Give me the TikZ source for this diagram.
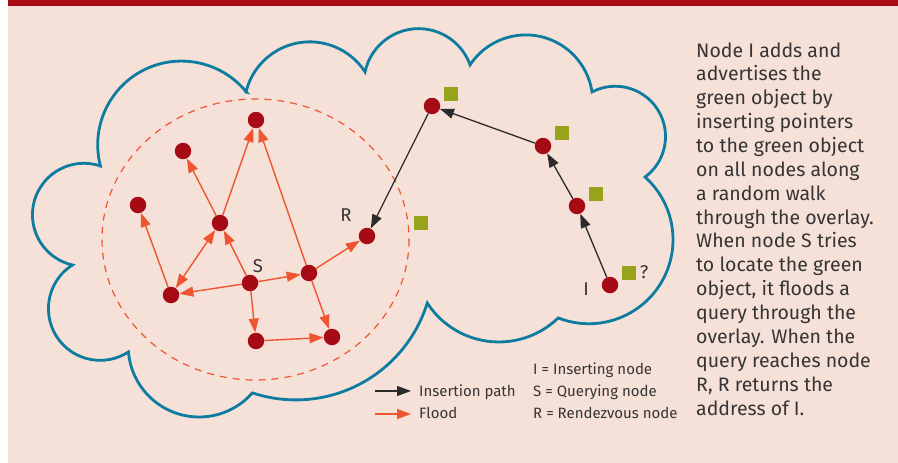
\documentclass[tikz,border=0pt]{standalone}
\usepackage{fontspec}
\setmainfont{Fira Sans}
\usetikzlibrary{arrows.meta}

\definecolor{paper}{HTML}{F5E1D7}
\definecolor{band}{HTML}{A90A15}
\definecolor{cloudblue}{HTML}{0E7BA1}
\definecolor{dotred}{HTML}{A60A14}
\definecolor{objgreen}{HTML}{97A31A}
\definecolor{floodred}{HTML}{EF5533}
\definecolor{ink}{HTML}{2B2B2B}
\definecolor{textgray}{HTML}{363434}

\tikzset{
  peer/.style={circle, fill=dotred, minimum size=16.5pt, inner sep=0pt},
  obj/.style={fill=objgreen, minimum size=14pt, inner sep=0pt},
  floodarrow/.style={draw=floodred, line width=1.4pt, -{Triangle[length=14pt,width=10pt]}},
  floodboth/.style={draw=floodred, line width=1.4pt, {Triangle[length=14pt,width=10pt]}-{Triangle[length=14pt,width=10pt]}},
  insarrow/.style={draw=ink, line width=1.3pt, -{Triangle[length=14pt,width=10pt]}},
  tag/.style={text=textgray, font=\fontsize{18.5}{18.5}\selectfont, inner sep=0pt},
  para/.style={text=textgray, font=\fontsize{19.5}{24}\selectfont, anchor=base west, inner sep=0pt},
  legend/.style={text=textgray, font=\fontsize{15}{15}\selectfont, anchor=base west, inner sep=0pt},
  cloudline/.style={draw=cloudblue, line width=2.8pt},
}

\begin{document}
\begin{tikzpicture}[x=1pt, y=-1pt]
  \useasboundingbox (0,0) rectangle (898,463);
  % page background and top band
  \fill[white] (0,0) rectangle (898,463);
  \fill[paper] (8,6) rectangle (898,463);
  \fill[band] (8,0) rectangle (898,6);

  % overlay network outline
  \draw[cloudline] (246,92)
    arc[start angle=193.7, end angle=327.2, radius=65.7]
    arc[start angle=192.0, end angle=340.3, radius=54.7]
    arc[start angle=213.5, end angle=351.5, radius=66.9]
    arc[start angle=242.5, end angle=413.6, radius=50.3]
    arc[start angle=-48.1, end angle=111.4, radius=84.1]
    arc[start angle=45.9, end angle=147.1, radius=85.3]
    arc[start angle=17.2, end angle=108.4, radius=137.6]
    arc[start angle=41.3, end angle=175.3, radius=70.9]
    arc[start angle=56.8, end angle=237.6, radius=51.7]
    arc[start angle=102.9, end angle=288.7, radius=51.5]
    arc[start angle=165.3, end angle=321.0, radius=83.7]
    -- cycle;

  % flood horizon
  \draw[floodred, line width=1.2pt, dash pattern=on 7pt off 6pt]
    (255.5,239.5) ellipse[x radius=153.5, y radius=140.5];

  % peers
  \node[peer] (ntop) at (256,120) {};
  \node[peer] (nul)  at (183,151) {};
  \node[peer] (nl)   at (138,205) {};
  \node[peer] (nmid) at (220,223) {};
  \node[peer] (nlb)  at (171,295) {};
  \node[peer] (S)    at (250,283) {};
  \node[peer] (nr)   at (309,273) {};
  \node[peer] (R)    at (367,236) {};
  \node[peer] (nb)   at (256,341) {};
  \node[peer] (nbr)  at (332,337) {};
  \node[peer] (p1)   at (432,106) {};
  \node[peer] (p2)   at (543,146) {};
  \node[peer] (p3)   at (577,206) {};
  \node[peer] (I)    at (610,285) {};

  % flooded query
  \draw[floodarrow] (S) -- (nmid);
  \draw[floodarrow] (nmid) -- (ntop);
  \draw[floodarrow] (nmid) -- (nul);
  \draw[floodboth] (nmid) -- (nlb);
  \draw[floodarrow] (S) -- (nlb);
  \draw[floodarrow] (nlb) -- (nl);
  \draw[floodarrow] (S) -- (nr);
  \draw[floodarrow] (S) -- (nb);
  \draw[floodarrow] (nb) -- (nbr);
  \draw[floodarrow] (nr) -- (nbr);
  \draw[floodarrow] (nr) -- (ntop);
  \draw[floodarrow] (nr) -- (R);

  % insertion walk
  \draw[insarrow] (I) -- (p3);
  \draw[insarrow] (p3) -- (p2);
  \draw[insarrow] (p2) -- (p1);
  \draw[insarrow] (p1) -- (R);

  % object pointers
  \node[obj] (o1) at (451,94) {};
  \node[obj] (o2) at (562,133) {};
  \node[obj] (o3) at (596,194) {};
  \node[obj] (oR) at (421,223) {};
  \node[obj] (oI) at (629,273) {};

  % node labels
  \node[tag] (labR) at (346,215) {R};
  \node[tag] (labS) at (258,266) {S};
  \node[tag] (labI) at (586,289) {I};
  \node[tag] (labQ) at (644,272) {?};

  % legend
  \coordinate (la1) at (375,391);
  \coordinate (lb1) at (411,391);
  \coordinate (la2) at (375,414);
  \coordinate (lb2) at (411,414);
  \draw[insarrow] (la1) -- (lb1);
  \draw[floodarrow] (la2) -- (lb2);
  \node[legend] (lgins) at (419,396) {Insertion path};
  \node[legend] (lgflood) at (419,418) {Flood};
  \node[legend] (lgI) at (533,374) {I = Inserting node};
  \node[legend] (lgS) at (533,396) {S = Querying node};
  \node[legend] (lgR) at (533,418) {R = Rendezvous node};

  % explanation
  \foreach \t [count=\i from 0] in {
      Node I adds and, advertises the, green object by,
      inserting pointers, to the green object, on all nodes along,
      a random walk, through the overlay., When node S tries,
      to locate the green, {object, it floods a}, query through the,
      overlay. When the, query reaches node, {R, R returns the},
      address of I.}
    \node[para] (line\i) at (696,{57+23.87*\i}) {\t};
\end{tikzpicture}
\end{document}
